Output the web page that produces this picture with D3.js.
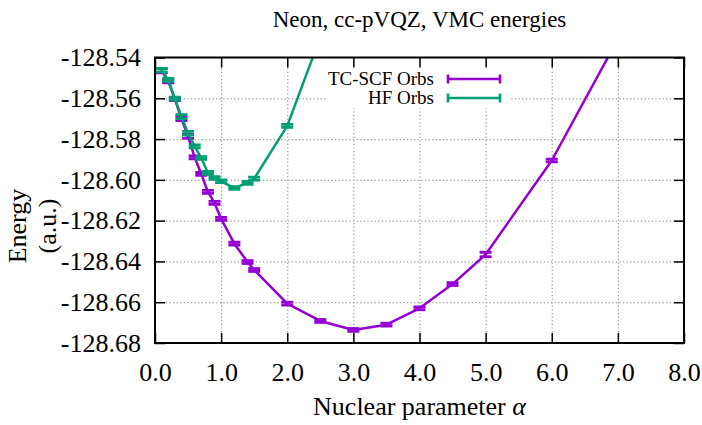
<!DOCTYPE html>
<html>
<head>
<meta charset="utf-8">
<script src="https://cdn.jsdelivr.net/npm/d3@7/dist/d3.min.js"></script>
<style>
  html, body { margin: 0; padding: 0; background: #fff; }
</style>
</head>
<body>
<svg id="chart" width="702" height="425"></svg>
<script>
// Nuclear parameter alpha and VMC energies (a.u.) with statistical errors
const tcAlpha = [0.1, 0.2, 0.3, 0.4, 0.5, 0.6, 0.7, 0.8, 0.9, 1.0, 1.2, 1.4, 1.5, 2.0, 2.5, 3.0, 3.5, 4.0, 4.5, 5.0, 6.0, 7.0];
const tcEnergy = [-128.5465, -128.5515, -128.5604, -128.5700, -128.5787, -128.5890, -128.5971, -128.6059, -128.6113, -128.6191,
                  -128.6313, -128.6403, -128.6442, -128.6607, -128.6692, -128.6736, -128.6710, -128.6630, -128.6511, -128.6366,
                  -128.5905, -128.5310];
const tcError = [0.0010, 0.0009, 0.0007, 0.0010, 0.0010, 0.0007, 0.0007, 0.0007, 0.0007, 0.0007,
                 0.0007, 0.0007, 0.0007, 0.0007, 0.0007, 0.0007, 0.0007, 0.0007, 0.0007, 0.0011,
                 0.0007, 0.0007];

const hfAlpha = [0.1, 0.2, 0.3, 0.4, 0.5, 0.6, 0.7, 0.8, 0.9, 1.0, 1.2, 1.4, 1.5, 2.0, 2.5];
const hfEnergy = [-128.5462, -128.5510, -128.5602, -128.5690, -128.5771, -128.5836, -128.5893, -128.5966, -128.5991, -128.6007,
                  -128.6040, -128.6015, -128.5994, -128.5735, -128.5300];
const hfError = [0.0008, 0.0007, 0.0007, 0.0010, 0.0009, 0.0007, 0.0007, 0.0007, 0.0007, 0.0007,
                 0.0007, 0.0007, 0.0007, 0.0007, 0.0007];

const seriesNames = ["TC-SCF Orbs", "HF Orbs"];
const xTicks = [0, 1, 2, 3, 4, 5, 6, 7, 8];
const xTickLabels = ["0.0", "1.0", "2.0", "3.0", "4.0", "5.0", "6.0", "7.0", "8.0"];
const yTicks = [-128.54, -128.56, -128.58, -128.60, -128.62, -128.64, -128.66, -128.68];
const yTickLabels = ["-128.54", "-128.56", "-128.58", "-128.60", "-128.62", "-128.64", "-128.66", "-128.68"];

const colors = ["#9400d3", "#009e73"];
const SERIF = "'Liberation Serif', 'Times New Roman', Times, serif";

const svg = d3.select("#chart");
const plot = { left: 155, right: 684, top: 57.5, bottom: 343 };
const W = plot.right - plot.left, H = plot.bottom - plot.top;

const x = d3.scaleLinear().domain([0, 8]).range([plot.left, plot.right]);
const y = d3.scaleLinear().domain([-128.68, -128.54]).range([plot.bottom, plot.top]);

const FS = 26;

// dotted grid
const gridX = svg.append("g").attr("transform", `translate(0,${plot.bottom})`)
  .call(d3.axisBottom(x).tickValues(xTicks.slice(1, -1)).tickSize(-H).tickFormat(""));
const gridY = svg.append("g").attr("transform", `translate(${plot.left},0)`)
  .call(d3.axisLeft(y).tickValues(yTicks.slice(1, -1)).tickSize(-W).tickFormat(""));
[gridX, gridY].forEach(g => {
  g.select(".domain").remove();
  g.selectAll("line").attr("stroke", "#999").attr("stroke-width", 1.2).attr("stroke-dasharray", "1.2,2.4");
});

// opaque key background
svg.append("rect").attr("x", 328).attr("y", plot.top + 1).attr("width", 183).attr("height", 50).attr("fill", "#fff");

// series
svg.append("clipPath").attr("id", "clip")
  .append("rect").attr("x", plot.left).attr("y", plot.top).attr("width", W).attr("height", H);

const series = [
  { name: seriesNames[0], xs: tcAlpha, ys: tcEnergy, es: tcError, color: colors[0] },
  { name: seriesNames[1], xs: hfAlpha, ys: hfEnergy, es: hfError, color: colors[1] }
];

const dataLayer = svg.append("g").attr("clip-path", "url(#clip)");
const line = d3.line().x(d => x(d[0])).y(d => y(d[1]));
const capHalf = 6;

series.forEach(s => {
  const pts = s.xs.map((v, i) => [v, s.ys[i], s.es[i]]);
  dataLayer.append("path").datum(pts).attr("d", line)
    .attr("fill", "none").attr("stroke", s.color).attr("stroke-width", 2.5).attr("stroke-linejoin", "round");
  const eb = dataLayer.append("g").attr("stroke", s.color).attr("stroke-width", 2.8);
  pts.forEach(p => {
    const cx = x(p[0]), y1 = y(p[1] + p[2]), y2 = y(p[1] - p[2]);
    eb.append("line").attr("x1", cx).attr("x2", cx).attr("y1", y1).attr("y2", y2);
    eb.append("line").attr("x1", cx - capHalf).attr("x2", cx + capHalf).attr("y1", y1).attr("y2", y1);
    eb.append("line").attr("x1", cx - capHalf).attr("x2", cx + capHalf).attr("y1", y2).attr("y2", y2);
  });
});

// axes with inward ticks
const tickLen = 10;
const axB = svg.append("g").attr("transform", `translate(0,${plot.bottom})`)
  .call(d3.axisBottom(x).tickValues(xTicks).tickSizeInner(-tickLen).tickSizeOuter(0).tickPadding(19.5)
    .tickFormat((d, i) => xTickLabels[i]));
const axL = svg.append("g").attr("transform", `translate(${plot.left},0)`)
  .call(d3.axisLeft(y).tickValues(yTicks).tickSizeInner(-tickLen).tickSizeOuter(0).tickPadding(14)
    .tickFormat((d, i) => yTickLabels[i]));
const axT = svg.append("g").attr("transform", `translate(0,${plot.top})`)
  .call(d3.axisTop(x).tickValues(xTicks).tickSizeInner(-tickLen).tickSizeOuter(0).tickFormat(""));
const axR = svg.append("g").attr("transform", `translate(${plot.right},0)`)
  .call(d3.axisRight(y).tickValues(yTicks).tickSizeInner(-tickLen).tickSizeOuter(0).tickFormat(""));
[axB, axL, axT, axR].forEach(g => {
  g.select(".domain").remove();
  g.attr("font-family", null).attr("font-size", null);
  g.selectAll("line").attr("stroke", "#000").attr("stroke-width", 1.5);
  g.selectAll("text").style("font-family", SERIF).style("font-size", FS + "px").attr("fill", "#000");
});

// border
svg.append("rect").attr("x", plot.left).attr("y", plot.top).attr("width", W).attr("height", H)
  .attr("fill", "none").attr("stroke", "#000").attr("stroke-width", 2);

// key
const keyFS = 19;
series.forEach((s, i) => {
  const ky = 79 + i * 19;
  svg.append("text").attr("x", 434).attr("y", ky).attr("dy", "0.33em")
    .attr("text-anchor", "end").style("font-family", SERIF).style("font-size", keyFS + "px").text(s.name);
  const g = svg.append("g").attr("stroke", s.color).attr("stroke-width", 2.6);
  g.append("line").attr("x1", 448).attr("x2", 500).attr("y1", ky).attr("y2", ky);
  g.append("line").attr("x1", 448).attr("x2", 448).attr("y1", ky - 4.5).attr("y2", ky + 4.5);
  g.append("line").attr("x1", 500).attr("x2", 500).attr("y1", ky - 4.5).attr("y2", ky + 4.5);
});

// title and axis labels
svg.append("text").attr("x", (plot.left + plot.right) / 2).attr("y", 27)
  .attr("text-anchor", "middle").style("font-family", SERIF).style("font-size", "23px")
  .text("Neon, cc-pVQZ, VMC energies");

const xl = svg.append("text").attr("x", (plot.left + plot.right) / 2).attr("y", 415)
  .attr("text-anchor", "middle").style("font-family", SERIF).style("font-size", FS + "px");
xl.append("tspan").text("Nuclear parameter ");
xl.append("tspan").style("font-style", "italic").text("α");

const yl = svg.append("g").attr("transform", "translate(17,226) rotate(-90)");
yl.append("text").attr("text-anchor", "middle").attr("dy", "0.35em")
  .style("font-family", SERIF).style("font-size", FS + "px").text("Energy");
yl.append("text").attr("text-anchor", "middle").attr("y", 30).attr("dy", "0.35em")
  .style("font-family", SERIF).style("font-size", FS + "px").text("(a.u.)");
</script>
</body>
</html>
